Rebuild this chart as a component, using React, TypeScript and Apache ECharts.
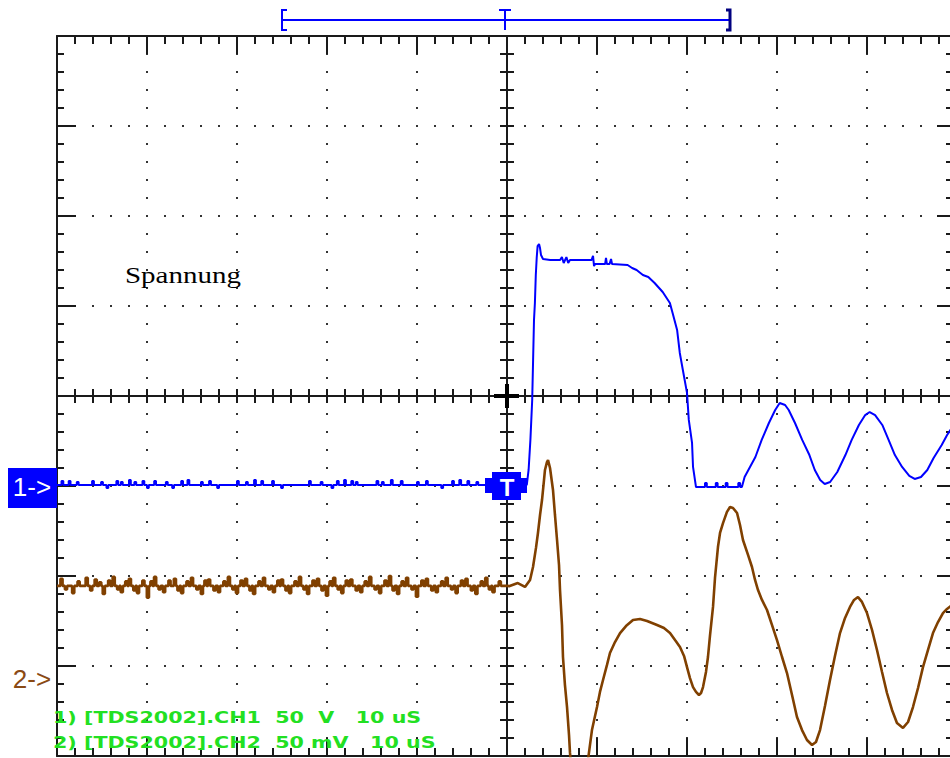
import React, { useEffect, useRef } from "react";
import * as echarts from "echarts";

// Horizontal: 10 µs/div, 10 divisions, trigger at t = 0
const TIME_MIN = -50;
const TIME_MAX = 50;
const TIME_DIV = 10;

// Screen divisions (vertical), used for the graticule
const DIV_MIN = -4;
const DIV_MAX = 4;

// CH1: 50 V/div  (ground marker "1->")
const CH1_MIN = -150;
const CH1_MAX = 250;
// CH2: 50 mV/div (ground marker "2->")
const CH2_MIN = -40;
const CH2_MAX = 360;

// CH1 pre-trigger baseline (V) and its noise spikes [t µs, V]
const CH1_BASE = 0.6;
const CH1_NOISE: number[][] = [
  [-49.4, 2.8], [-48.6, 2.8], [-47.7, 2.2], [-46.0, 2.8], [-45.0, 2.2], [-44.4, -1.1],
  [-43.3, 2.8], [-42.8, 2.2], [-41.9, 3.3], [-41.3, 2.2], [-40.4, 2.8], [-39.9, -1.1],
  [-39.1, 2.8], [-37.8, 2.2], [-37.1, -1.1], [-36.1, 2.8], [-35.4, 3.3], [-33.9, 2.2],
  [-33.0, 2.8], [-32.1, -1.1], [-29.9, 2.8], [-28.9, 2.2], [-28.0, 3.3], [-27.2, 2.8],
  [-26.0, 2.8], [-25.0, -1.1], [-21.9, 2.8], [-20.6, 2.2], [-19.4, -1.1], [-18.8, 2.8],
  [-18.0, 3.3], [-17.2, 2.8], [-16.7, 2.2], [-14.4, 2.8], [-13.8, 2.2], [-12.8, 3.3],
  [-11.7, 2.8], [-9.9, 2.2], [-8.9, 2.8], [-7.2, -1.1], [-6.0, 2.8], [-5.2, 3.3],
  [-4.3, 2.8], [-3.3, 2.2],
];
// CH1 waveform after the trigger [t µs, V]
const CH1_WAVE: number[][] = [
  [2.2, 0.6], [2.4, 8.9], [2.6, 25.6], [2.8, 47.8], [2.9, 70.0], [3.0, 92.2], [3.1, 101.7],
  [3.2, 117.2], [3.3, 126.7], [3.4, 133.3], [3.56, 134.4], [3.67, 132.2], [3.78, 128.3],
  [4.0, 126.1], [4.8, 125.6], [5.9, 125.6], [6.1, 127.2], [6.3, 123.9], [6.6, 127.2],
  [6.8, 123.9], [7.0, 125.6], [9.4, 125.6], [9.56, 127.8], [9.67, 122.2], [9.8, 123.3],
  [10.9, 123.3], [11.0, 126.7], [11.1, 123.3], [11.4, 123.3], [11.56, 126.1], [11.67, 123.3],
  [13.4, 122.8], [13.9, 121.1], [14.4, 120.0], [15.1, 117.2], [15.7, 116.1], [16.4, 112.8],
  [17.3, 107.8], [18.1, 101.7], [18.4, 96.1], [18.9, 86.7], [19.2, 73.9], [19.6, 62.8],
  [20.0, 51.7], [20.2, 36.7], [20.56, 23.9], [20.67, 10.6], [21.0, -0.6], [22.0, -0.6],
  [22.0, 1.7], [22.2, 1.7], [22.2, -0.6], [23.2, -0.6], [23.2, 1.7], [23.4, 1.7],
  [23.4, -0.6], [24.3, -0.6], [24.3, 1.7], [24.5, 1.7], [24.5, -0.6], [25.7, -0.6],
  [25.7, 1.7], [25.9, 1.7], [25.9, -0.6], [26.1, -0.6], [26.4, 5.0], [27.0, 10.6],
  [27.6, 16.1], [28.3, 25.6], [29.1, 35.0], [29.8, 42.2], [30.3, 46.1], [30.9, 45.0],
  [31.3, 42.2], [32.0, 35.0], [32.8, 25.6], [33.6, 17.2], [34.2, 8.9], [34.8, 3.3],
  [35.3, 1.1], [35.9, 2.2], [36.7, 7.8], [37.6, 17.2], [38.3, 25.6], [39.1, 33.9],
  [39.8, 39.4], [40.3, 41.1], [40.9, 39.4], [41.7, 33.9], [42.4, 25.6], [43.1, 17.2],
  [43.9, 10.6], [44.7, 5.6], [45.3, 3.9], [46.0, 5.0], [46.7, 8.9], [47.4, 15.6],
  [48.3, 22.8], [48.9, 28.3], [49.4, 32.2], [50.0, 35.6],
];

// CH2 pre-trigger baseline (mV) and its noise spikes [t µs, mV]
const CH2_BASE = 54.5;
const CH2_NOISE: number[][] = [
  [-49.5, 58.5], [-49.0, 52.5], [-48.2, 50.5], [-47.6, 57.0], [-46.7, 59.0], [-46.2, 52.0],
  [-45.7, 58.0], [-45.2, 56.5], [-44.8, 50.0], [-44.2, 57.5], [-43.7, 59.5], [-43.2, 52.5],
  [-42.8, 51.0], [-42.3, 57.0], [-41.9, 58.5], [-41.4, 52.0], [-41.0, 50.5], [-40.4, 57.5],
  [-39.9, 48.0], [-39.5, 57.0], [-39.1, 59.5], [-38.6, 52.5], [-38.1, 51.0], [-37.5, 57.5],
  [-36.9, 58.5], [-36.5, 52.0], [-36.1, 50.5], [-35.5, 57.0], [-35.0, 59.0], [-34.4, 52.5],
  [-33.9, 50.0], [-33.5, 57.5], [-33.1, 58.0], [-32.5, 52.0], [-32.0, 51.0], [-31.4, 57.0],
  [-30.9, 59.5], [-30.4, 52.5], [-30.0, 50.5], [-29.5, 57.5], [-29.0, 58.5], [-28.5, 52.0],
  [-28.1, 50.0], [-27.5, 57.0], [-27.0, 59.0], [-26.4, 52.5], [-25.9, 51.0], [-25.4, 57.5],
  [-25.0, 58.0], [-24.5, 52.0], [-24.1, 50.5], [-23.5, 57.0], [-23.0, 59.5], [-22.5, 52.5],
  [-22.1, 50.0], [-21.5, 57.5], [-21.0, 58.5], [-20.5, 52.0], [-20.0, 49.0], [-19.6, 57.0],
  [-19.2, 59.0], [-18.7, 52.5], [-18.3, 50.5], [-17.8, 57.5], [-17.3, 58.0], [-16.7, 52.0],
  [-16.2, 51.0], [-15.7, 57.0], [-15.2, 59.5], [-14.6, 52.5], [-14.1, 50.5], [-13.5, 57.5],
  [-13.0, 60.0], [-12.6, 52.0], [-12.1, 50.0], [-11.6, 57.0], [-11.1, 59.0], [-10.5, 52.5],
  [-10.0, 48.5], [-9.4, 57.5], [-8.9, 58.5], [-8.3, 52.0], [-7.8, 51.0], [-7.2, 57.0],
  [-6.7, 59.0], [-6.1, 52.5], [-5.6, 50.5], [-5.0, 57.5], [-4.5, 58.5], [-3.9, 52.0],
  [-3.4, 50.0], [-2.8, 57.0], [-2.3, 59.0], [-1.9, 52.5], [-1.5, 51.0], [-0.8, 57.0],
];
// CH2 waveform after the trigger [t µs, mV]
const CH2_WAVE: number[][] = [
  [0.3, 54.4], [1.2, 56.1], [2.0, 53.9], [2.56, 57.8], [2.89, 65.0], [3.22, 75.6], [3.44, 83.9],
  [3.67, 93.9], [3.89, 102.2], [4.11, 113.3], [4.22, 118.9], [4.44, 123.3], [4.56, 124.4],
  [4.78, 120.0], [5.11, 107.8], [5.33, 93.9], [5.56, 80.0], [5.78, 66.1], [5.89, 52.2],
  [6.11, 32.8], [6.22, 15.0], [6.44, -0.6], [6.67, -12.8], [6.89, -28.3], [7.0, -38.3],
  [7.22, -50.6], [7.67, -58.9], [8.11, -61.7], [8.56, -56.1], [9.0, -42.2], [9.44, -25.6],
  [10.0, -12.8], [10.33, -4.4], [10.67, 2.2], [11.11, 10.6], [11.44, 17.2], [12.0, 23.3],
  [12.56, 28.3], [13.22, 32.2], [14.0, 35.6], [14.78, 36.1], [15.56, 35.0], [16.67, 32.8],
  [17.44, 31.1], [18.11, 28.3], [18.67, 24.4], [19.22, 20.6], [19.67, 15.6], [20.0, 9.4],
  [20.33, 3.3], [20.67, -1.7], [21.0, -4.4], [21.33, -6.1], [21.56, -5.0], [21.78, -1.7],
  [22.11, 6.7], [22.33, 15.0], [22.56, 27.2], [22.89, 42.8], [23.11, 58.9], [23.44, 76.1],
  [23.67, 83.9], [24.0, 89.4], [24.44, 95.6], [24.78, 98.3], [25.11, 97.8], [25.56, 95.0],
  [25.89, 88.3], [26.22, 80.0], [26.78, 71.7], [27.22, 65.0], [27.56, 57.8], [27.89, 52.2],
  [28.33, 46.7], [28.89, 41.1], [29.44, 32.8], [30.0, 24.4], [30.56, 15.0], [31.11, 6.1],
  [31.67, -6.1], [32.22, -18.3], [32.78, -25.6], [33.33, -31.1], [33.89, -33.9], [34.33, -32.2],
  [34.78, -25.6], [35.33, -12.2], [35.89, 2.2], [36.44, 15.6], [37.0, 28.3], [37.56, 36.7],
  [38.11, 42.8], [38.56, 46.7], [39.0, 48.3], [39.44, 45.6], [40.0, 39.4], [40.56, 30.0],
  [41.11, 18.9], [41.67, 6.7], [42.22, -5.0], [42.78, -14.4], [43.33, -21.7], [44.0, -24.4],
  [44.56, -21.1], [45.11, -12.8], [45.67, -2.2], [46.22, 9.4], [46.78, 18.9], [47.33, 28.3],
  [47.89, 34.4], [48.44, 39.4], [48.89, 41.7], [49.44, 43.9], [50.0, 45.0],
];

const INFO_LINES = [
  "1) [TDS2002].CH1  50  V   10 uS",
  "2) [TDS2002].CH2  50 mV   10 uS",
];
const TRACE_LABEL = "Spannung";
const CH1_MARKER = "1->";
const CH2_MARKER = "2->";
const TRIGGER_MARK = "T";

const BLUE = "#0000ff";
const BROWN = "#804000";
const GREEN = "#22e022";
const AX = "#1a1a1a";

function withSpikes(base: number, spikes: number[][], t0: number, t1: number, half: number) {
  const pts: number[][] = [[t0, base]];
  spikes.forEach(([t, v]) => {
    pts.push([t - half, base], [t - half, v], [t + half, v], [t + half, base]);
  });
  pts.push([t1, base]);
  return pts;
}

const nb = (s: string) => s.replace(/ /g, "\u00a0");

export default function App() {
  const ref = useRef<HTMLDivElement>(null);
  useEffect(() => {
    if (!ref.current) return;
    const chart = echarts.init(ref.current, null, { renderer: "svg" });

    const line = (w: number) => ({ show: true, onZero: false, lineStyle: { color: AX, width: w } });
    const ticks = (inside: boolean, len: number, minorLen: number) => ({
      axisTick: { show: true, inside, length: len, lineStyle: { color: AX, width: 2 } },
      minorTick: { show: true, splitNumber: 5, length: minorLen, lineStyle: { color: AX, width: 2 } },
    });
    const dotted = {
      show: true,
      lineStyle: { color: "#333", width: 2, type: [2, 16], dashOffset: 1 },
    };
    const bx = {
      type: "value", min: TIME_MIN, max: TIME_MAX, interval: TIME_DIV,
      axisLabel: { show: false }, splitLine: { show: false },
    };
    const by = {
      type: "value", min: DIV_MIN, max: DIV_MAX, interval: 1,
      axisLabel: { show: false }, splitLine: { show: false },
    };

    const ch1 = [...withSpikes(CH1_BASE, CH1_NOISE, TIME_MIN, 2.0, 0.1), ...CH1_WAVE];
    const ch2 = [...withSpikes(CH2_BASE, CH2_NOISE, TIME_MIN, 0.0, 0.12), ...CH2_WAVE];

    const option: any = {
      animation: false,
      backgroundColor: "#ffffff",
      grid: { left: 57, top: 36, width: 900, height: 720, containLabel: false, outerBoundsMode: "none" },
      xAxis: [
        { ...bx, position: "bottom", offset: 0, axisLine: line(2), ...ticks(true, 18, 8), splitLine: dotted },
        { ...bx, position: "top", offset: 0, axisLine: line(2), ...ticks(true, 18, 8) },
        { ...bx, position: "bottom", offset: -360, axisLine: line(2), ...ticks(true, 7, 7) },
        { ...bx, position: "bottom", offset: -360, axisLine: { show: false, onZero: false }, ...ticks(false, 7, 7) },
      ],
      yAxis: [
        { ...by, position: "left", offset: 0, axisLine: line(2), ...ticks(true, 19, 7), splitLine: dotted },
        { ...by, position: "right", offset: 0, axisLine: line(2), ...ticks(true, 20, 11) },
        { ...by, position: "left", offset: -450, axisLine: line(2), ...ticks(true, 7, 7) },
        { ...by, position: "left", offset: -450, axisLine: { show: false, onZero: false }, ...ticks(false, 7, 7) },
        { type: "value", min: CH1_MIN, max: CH1_MAX, show: false },
        { type: "value", min: CH2_MIN, max: CH2_MAX, show: false },
      ],
      series: [
        {
          type: "line", name: "CH2", xAxisIndex: 0, yAxisIndex: 5, data: ch2,
          symbol: "none", showSymbol: false, clip: true, silent: true, z: 4,
          lineStyle: { color: BROWN, width: 2.6 }, itemStyle: { color: BROWN },
        },
        {
          type: "line", name: "CH1", xAxisIndex: 0, yAxisIndex: 4, data: ch1,
          symbol: "none", showSymbol: false, clip: true, silent: true, z: 5,
          lineStyle: { color: BLUE, width: 2 }, itemStyle: { color: BLUE },
        },
      ],
      graphic: {
        elements: [
          {
            type: "text", x: 125, y: 275.5, scaleX: 1.26, z: 10,
            style: { text: TRACE_LABEL, font: '23px "Liberation Serif"', fill: "#000", align: "left", verticalAlign: "middle" },
          },
          {
            type: "text", x: 53, y: 717.5, scaleX: 1.29, z: 1,
            style: { text: nb(INFO_LINES[0]), font: 'bold 16px "DejaVu Sans"', fill: GREEN, align: "left", verticalAlign: "middle" },
          },
          {
            type: "text", x: 53, y: 742.5, scaleX: 1.29, z: 1,
            style: { text: nb(INFO_LINES[1]), font: 'bold 16px "DejaVu Sans"', fill: GREEN, align: "left", verticalAlign: "middle" },
          },
          { type: "rect", z: 100, shape: { x: 8, y: 468, width: 49, height: 40 }, style: { fill: BLUE } },
          {
            type: "text", x: 32, y: 487, z: 101,
            style: { text: CH1_MARKER, font: '26px "Liberation Sans"', fill: "#fff", align: "center", verticalAlign: "middle" },
          },
          {
            type: "text", x: 32, y: 679, z: 101,
            style: { text: CH2_MARKER, font: '26px "Liberation Sans"', fill: "#8a4a14", align: "center", verticalAlign: "middle" },
          },
          { type: "rect", z: 100, shape: { x: 492, y: 472, width: 29, height: 28 }, style: { fill: BLUE } },
          { type: "rect", z: 100, shape: { x: 485, y: 478, width: 42, height: 15 }, style: { fill: BLUE } },
          {
            type: "text", x: 507, y: 487, z: 101,
            style: { text: TRIGGER_MARK, font: 'bold 24px "Liberation Sans"', fill: "#fff", align: "center", verticalAlign: "middle" },
          },
          // record-window bracket
          { type: "line", z: 10, shape: { x1: 282, y1: 20, x2: 730, y2: 20 }, style: { stroke: BLUE, lineWidth: 2 } },
          { type: "polyline", z: 10, shape: { points: [[287, 10], [282, 10], [282, 30], [287, 30]] }, style: { stroke: BLUE, lineWidth: 2, fill: null } },
          { type: "polyline", z: 10, shape: { points: [[726, 10], [730, 10], [730, 30], [726, 30]] }, style: { stroke: "#000080", lineWidth: 3, fill: null } },
          { type: "line", z: 10, shape: { x1: 505, y1: 10, x2: 505, y2: 30 }, style: { stroke: BLUE, lineWidth: 2 } },
          { type: "line", z: 10, shape: { x1: 499, y1: 10, x2: 511, y2: 10 }, style: { stroke: BLUE, lineWidth: 2 } },
          // bold centre cross
          { type: "line", z: 10, shape: { x1: 507, y1: 384, x2: 507, y2: 408 }, style: { stroke: "#000", lineWidth: 4 } },
          { type: "line", z: 10, shape: { x1: 494, y1: 396, x2: 519, y2: 396 }, style: { stroke: "#000", lineWidth: 4 } },
        ],
      },
    };
    chart.setOption(option);
    return () => chart.dispose();
  }, []);

  return (
    <div style={{ position: "fixed", left: 0, top: 0, width: 950, height: 758, overflow: "hidden", background: "#fff" }}>
      <div ref={ref} style={{ width: 950, height: 758 }} />
    </div>
  );
}
